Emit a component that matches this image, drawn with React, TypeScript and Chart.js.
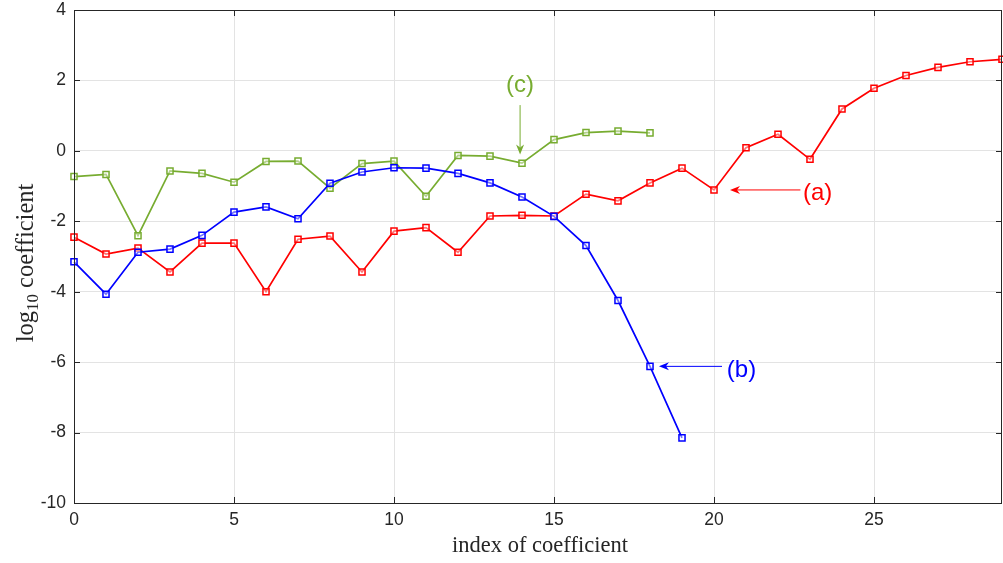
import React, { useEffect, useRef } from "react";
import { Chart, registerables } from "chart.js";

Chart.register(...registerables);

const indexA = [0, 1, 2, 3, 4, 5, 6, 7, 8, 9, 10, 11, 12, 13, 14, 15, 16, 17, 18, 19, 20, 21, 22, 23, 24, 25, 26, 27, 28, 29];
const seriesA = [-2.45, -2.93, -2.76, -3.44, -2.62, -2.62, -4.0, -2.51, -2.42, -3.44, -2.28, -2.18, -2.88, -1.85, -1.83, -1.85, -1.23, -1.42, -0.91, -0.49, -1.11, 0.09, 0.47, -0.24, 1.19, 1.78, 2.14, 2.37, 2.53, 2.6];

const indexB = [0, 1, 2, 3, 4, 5, 6, 7, 8, 9, 10, 11, 12, 13, 14, 15, 16, 17, 18, 19];
const seriesB = [-3.15, -4.07, -2.88, -2.79, -2.4, -1.74, -1.59, -1.93, -0.92, -0.6, -0.48, -0.49, -0.64, -0.91, -1.31, -1.86, -2.69, -4.25, -6.12, -8.15];

const indexC = [0, 1, 2, 3, 4, 5, 6, 7, 8, 9, 10, 11, 12, 13, 14, 15, 16, 17, 18];
const seriesC = [-0.73, -0.67, -2.41, -0.57, -0.64, -0.89, -0.3, -0.29, -1.06, -0.36, -0.29, -1.29, -0.13, -0.15, -0.35, 0.32, 0.52, 0.56, 0.51];

const xTicks = [0, 5, 10, 15, 20, 25];
const yTicks = [4, 2, 0, -2, -4, -6, -8, -10];

const xTitle = "index of coefficient";
const yTitleMain = "log";
const yTitleSub = "10";
const yTitleRest = " coefficient";

// annotation arrows in data coordinates
const annotations = [
  { label: "(a)", color: "#ff0000", tail: [22.7, -1.11], head: [20.5, -1.11], text: [22.78, -1.2], align: "left" },
  { label: "(b)", color: "#0000ff", tail: [20.25, -6.12], head: [18.28, -6.12], text: [20.4, -6.22], align: "left" },
  { label: "(c)", color: "#77ac30", tail: [13.94, 1.3], head: [13.94, -0.1], text: [13.94, 1.87], align: "center" },
];

const AXIS_COLOR = "#262626";
const TICK_FONT = "Liberation Sans";

function toPoints(xs: number[], ys: number[]) {
  return ys.map((v, i) => ({ x: xs[i], y: v }));
}

const decorPlugin = {
  id: "decor",
  afterDatasetsDraw(chart: any) {
    const ctx = chart.ctx as CanvasRenderingContext2D;
    const xs = chart.scales.x;
    const ys = chart.scales.y;
    const { left, right, top, bottom } = chart.chartArea;
    ctx.save();
    // box
    ctx.strokeStyle = AXIS_COLOR;
    ctx.lineWidth = 1;
    ctx.beginPath();
    ctx.rect(Math.round(left) + 0.5, Math.round(top) + 0.5, Math.round(right - left) - 1, Math.round(bottom - top));
    ctx.stroke();
    // tick marks (inward)
    const tl = 6;
    ctx.beginPath();
    xTicks.forEach((t) => {
      const px = Math.round(xs.getPixelForValue(t)) + 0.5;
      ctx.moveTo(px, bottom);
      ctx.lineTo(px, bottom - tl);
      ctx.moveTo(px, top);
      ctx.lineTo(px, top + tl);
    });
    yTicks.forEach((t) => {
      const py = Math.round(ys.getPixelForValue(t)) + 0.5;
      ctx.moveTo(left, py);
      ctx.lineTo(left + tl, py);
      ctx.moveTo(right, py);
      ctx.lineTo(right - tl, py);
    });
    ctx.stroke();

    // annotations
    annotations.forEach((a) => {
      const tx = xs.getPixelForValue(a.tail[0]);
      const ty = ys.getPixelForValue(a.tail[1]);
      const hx = xs.getPixelForValue(a.head[0]);
      const hy = ys.getPixelForValue(a.head[1]);
      const ang = Math.atan2(hy - ty, hx - tx);
      const L = 10;
      const W = 4;
      const N = 7;
      ctx.strokeStyle = a.color;
      ctx.fillStyle = a.color;
      ctx.lineWidth = 1;
      ctx.beginPath();
      ctx.moveTo(tx, ty);
      ctx.lineTo(hx - Math.cos(ang) * N, hy - Math.sin(ang) * N);
      ctx.stroke();
      const cos = Math.cos(ang);
      const sin = Math.sin(ang);
      const bx = hx - cos * L;
      const by = hy - sin * L;
      ctx.beginPath();
      ctx.moveTo(hx, hy);
      ctx.lineTo(bx - sin * W, by + cos * W);
      ctx.lineTo(hx - cos * N, hy - sin * N);
      ctx.lineTo(bx + sin * W, by - cos * W);
      ctx.closePath();
      ctx.fill();
      ctx.font = `24px "${TICK_FONT}"`;
      ctx.textAlign = a.align as CanvasTextAlign;
      ctx.textBaseline = "middle";
      ctx.fillText(a.label, xs.getPixelForValue(a.text[0]), ys.getPixelForValue(a.text[1]));
    });

    // x title
    ctx.fillStyle = AXIS_COLOR;
    ctx.font = `22.5px "Liberation Serif"`;
    ctx.textAlign = "center";
    ctx.textBaseline = "alphabetic";
    ctx.fillText(xTitle, 540, 552);

    // y title (rotated)
    ctx.save();
    ctx.translate(33, 263);
    ctx.rotate(-Math.PI / 2);
    const mainFont = `24.5px "Liberation Serif"`;
    const subFont = `17px "Liberation Serif"`;
    ctx.font = mainFont;
    const w1 = ctx.measureText(yTitleMain).width;
    const w3 = ctx.measureText(yTitleRest).width;
    ctx.font = subFont;
    const w2 = ctx.measureText(yTitleSub).width;
    const total = w1 + w2 + w3;
    let x0 = -total / 2;
    ctx.textAlign = "left";
    ctx.font = mainFont;
    ctx.fillText(yTitleMain, x0, 0);
    x0 += w1;
    ctx.font = subFont;
    ctx.fillText(yTitleSub, x0, 5);
    x0 += w2;
    ctx.font = mainFont;
    ctx.fillText(yTitleRest, x0, 0);
    ctx.restore();

    ctx.restore();
  },
};

export default function App() {
  const ref = useRef<HTMLCanvasElement | null>(null);
  useEffect(() => {
    if (!ref.current) return;
    const common = {
      borderWidth: 1.7,
      pointStyle: "rect",
      pointRadius: 4.3,
      pointBorderWidth: 1.5,
      pointBackgroundColor: "rgba(255,255,255,0.45)",
      tension: 0,
      fill: false,
      clip: 6,
    };
    const chart = new Chart(ref.current, {
      type: "line",
      data: {
        datasets: [
          { ...common, label: "(b)", data: toPoints(indexB, seriesB), borderColor: "#0000ff", pointBorderColor: "#0000ff" },
          { ...common, label: "(a)", data: toPoints(indexA, seriesA), borderColor: "#ff0000", pointBorderColor: "#ff0000" },
          { ...common, label: "(c)", data: toPoints(indexC, seriesC), borderColor: "#77ac30", pointBorderColor: "#77ac30" },
        ] as any,
      },
      options: {
        animation: false,
        responsive: false,
        devicePixelRatio: 1,
        layout: { autoPadding: false, padding: { top: 10, right: 1, left: 0, bottom: 0 } },
        plugins: { legend: { display: false }, tooltip: { enabled: false } },
        scales: {
          x: {
            type: "linear",
            min: 0,
            max: 29,
            afterFit: (s: any) => {
              s.height = 60;
              s.paddingLeft = 0;
              s.paddingRight = 0;
            },
            afterBuildTicks: (s: any) => {
              s.ticks = xTicks.map((v) => ({ value: v }));
            },
            ticks: {
              stepSize: 5,
              padding: 7,
              color: AXIS_COLOR,
              font: { family: TICK_FONT, size: 17.5 },
              maxRotation: 0,
            },
            grid: { color: "#e3e3e3", drawTicks: false },
            border: { display: false },
          },
          y: {
            type: "linear",
            min: -10,
            max: 4,
            afterFit: (s: any) => {
              s.width = 74;
              s.paddingTop = 0;
              s.paddingBottom = 0;
            },
            afterBuildTicks: (s: any) => {
              s.ticks = yTicks.map((v) => ({ value: v }));
            },
            ticks: {
              stepSize: 2,
              padding: 8,
              color: AXIS_COLOR,
              font: { family: TICK_FONT, size: 17.5 },
            },
            grid: { color: "#e3e3e3", drawTicks: false },
            border: { display: false },
          },
        },
      } as any,
      plugins: [decorPlugin],
    });
    return () => chart.destroy();
  }, []);
  return (
    <div style={{ position: "absolute", left: 0, top: 0, width: 1003, height: 563, background: "#fff" }}>
      <canvas ref={ref} width={1003} height={563} style={{ display: "block" }} />
    </div>
  );
}
